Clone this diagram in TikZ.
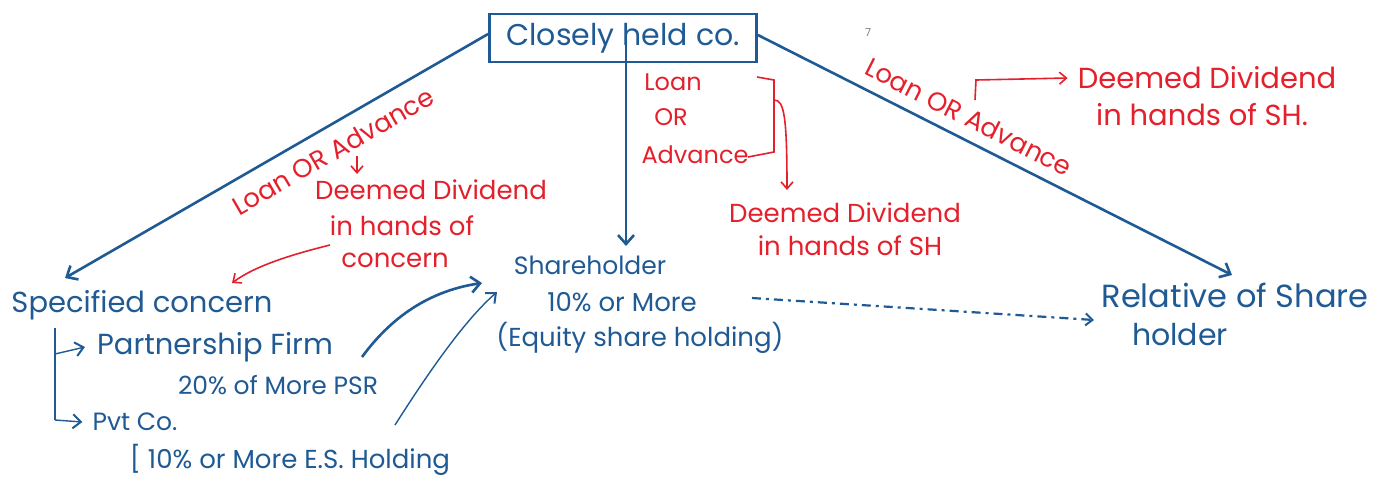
\documentclass[tikz,border=0pt]{standalone}
\usepackage{fontspec}
\setmainfont{Poppins}
\usetikzlibrary{arrows.meta}
\definecolor{ink}{HTML}{1F5A94}
\definecolor{pen}{HTML}{E3202C}
\newcommand{\fs}[1]{\fontsize{#1}{#1}\selectfont}
\begin{document}
\begin{tikzpicture}[x=1pt,y=-1pt,
  bl/.style={text=ink,font=\fs{28},inner sep=0pt},
  rd/.style={text=pen,font=\fs{26},inner sep=0pt},
  bline/.style={draw=ink,line width=2.6pt,-{Straight Barb[length=9pt,width=16pt,line width=2.6pt]}},
  thinb/.style={draw=ink,line width=1.4pt,-{Straight Barb[length=8pt,width=14pt,line width=2pt]}},
  rline/.style={draw=pen,line width=1.6pt,-{Straight Barb[length=7pt,width=12pt,line width=1.6pt]}},
]
\useasboundingbox[fill=white] (0,0) rectangle (1395,483);
% top box
\node[draw=ink,line width=2.8pt,minimum width=267pt,minimum height=48pt,inner sep=0pt,
      text=ink,font=\fs{30}] (chc) at (623,38) {Closely held co.};
\node[text=gray,font=\fs{11},inner sep=0pt] (seven) at (868,33) {7};
% blue texts
\node[bl,font=\fs{29}] (sc) at (142,305) {Specified concern};
\node[bl,font=\fs{29}] (pf) at (215,347) {Partnership Firm};
\node[bl,font=\fs{25}] (pfc) at (278,385) {20\% of More PSR};
\node[bl,font=\fs{25}] (pvt) at (135,422) {Pvt Co.};
\node[bl,font=\fs{26}] (pvtc) at (290,460) {[ 10\% or More E.S. Holding};
\node[bl,font=\fs{25}] (sh) at (590,265) {Shareholder};
\node[bl,font=\fs{26}] (sh2) at (622,302) {10\% or More};
\node[bl,font=\fs{26}] (sh3) at (640,338) {(Equity share holding)};
\node[bl,font=\fs{32}] (rel) at (1235,295) {Relative of Share};
\node[bl,font=\fs{30}] (rel2) at (1180,335) {holder};
% red texts
\node[rd,rotate=30] (lbl1) at (333,151) {Loan OR Advance};
\node[rd] (dd1a) at (431,190) {Deemed Dividend};
\node[rd] (dd1b) at (402,226) {in hands of};
\node[rd] (dd1c) at (395,260) {concern};
\node[rd,font=\fs{24}] (lo) at (673,82) {Loan};
\node[rd,font=\fs{24}] (lor) at (671,117) {OR};
\node[rd,font=\fs{24}] (lad) at (695,155) {Advance};
\node[rd] (dd2a) at (845,213) {Deemed Dividend};
\node[rd] (dd2b) at (850,246) {in hands of SH};
\node[rd,rotate=-27] (lbl3) at (969,117) {Loan OR Advance};
\node[rd,font=\fs{29}] (dd3a) at (1207,78) {Deemed Dividend};
\node[rd,font=\fs{29}] (dd3b) at (1202,115) {in hands of SH.};
% coordinates
\coordinate (lend) at (65,278);
\coordinate (vtop) at (626,42);
\coordinate (vend) at (626,246);
\coordinate (rend) at (1232,275);
% main connectors
\draw[bline] (chc.west) ++(0,-4) -- (lend);
\draw[bline] (vtop) -- (vend);
\draw[bline] (chc.east) ++(0,-3) -- (rend);
% red helpers
\draw[rline] (357,156) -- (357,174);
\draw[rline] (330,245) .. controls (290,255) and (255,266) .. (232,283);
\draw[draw=pen,line width=1.6pt] (757,77) -- (774,80) -- (774,152) -- (748,157);
\draw[rline] (774,100) .. controls (784,100) and (787,115) .. (787,190);
\draw[rline] (975,100) -- (976,80) -- ([xshift=-10pt]dd3a.west);
% tree
\draw[draw=ink,line width=2pt] (55,328) -- (55,420);
\draw[thinb] (55,354) -- ([xshift=-12pt]pf.west);
\draw[thinb] (55,420) -- ([xshift=-10pt]pvt.west);
% curved arrows into shareholder
\draw[bline] (362,357) .. controls (395,312) and (435,290) .. (482,283);
\draw[thinb] (395,425) .. controls (430,370) and (465,320) .. (497,292);
% dash-dot connector
\draw[draw=ink,line width=2.2pt,dash pattern=on 9pt off 5pt on 3pt off 5pt,
      -{Straight Barb[length=7pt,width=12pt,line width=2pt]}] (752,298) -- (1094,320);
\end{tikzpicture}
\end{document}
